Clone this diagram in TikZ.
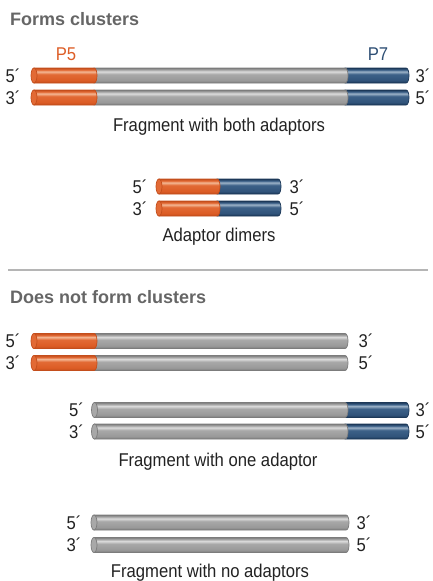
\documentclass[tikz,border=0pt]{standalone}
\usepackage{fontspec}
\setmainfont{Liberation Sans}
\newfontfamily\condsans{Liberation Sans}[FakeStretch=0.9]
\definecolor{oD}{HTML}{C44E1C}
\definecolor{oM}{HTML}{DC5C25}
\definecolor{oM2}{HTML}{E26A35}
\definecolor{oL}{HTML}{F4B895}
\definecolor{gD}{HTML}{7C7C7C}
\definecolor{gM}{HTML}{999999}
\definecolor{gM2}{HTML}{A8A8A8}
\definecolor{gL}{HTML}{DCDCDC}
\definecolor{bD}{HTML}{1C3858}
\definecolor{bM}{HTML}{30537A}
\definecolor{bM2}{HTML}{3D6188}
\definecolor{bL}{HTML}{9DB3C9}
\definecolor{titlegray}{HTML}{666666}
\definecolor{plabO}{HTML}{DD5E27}
\definecolor{plabB}{HTML}{2E4F74}
\definecolor{sepgray}{HTML}{B5B5B5}
\definecolor{textblack}{HTML}{222222}
\pgfdeclareverticalshading{orangerod}{100bp}{color(0bp)=(oD); color(25bp)=(oD); color(34bp)=(oM); color(54bp)=(oM2); color(63bp)=(oL); color(69bp)=(oM2); color(75bp)=(oD); color(100bp)=(oD)}
\pgfdeclareverticalshading{grayrod}{100bp}{color(0bp)=(gD); color(25bp)=(gD); color(34bp)=(gM); color(54bp)=(gM2); color(63bp)=(gL); color(69bp)=(gM2); color(75bp)=(gD); color(100bp)=(gD)}
\pgfdeclareverticalshading{bluerod}{100bp}{color(0bp)=(bD); color(25bp)=(bD); color(34bp)=(bM); color(54bp)=(bM2); color(63bp)=(bL); color(69bp)=(bM2); color(75bp)=(bD); color(100bp)=(bD)}
\newcommand\rodseg[5]{%
  \shadedraw[shading=#4, draw=#5, line width=0.7pt]
    (#1,#3-7.5) -- (#2,#3-7.5) .. controls (#2+4,#3-7.5) and (#2+4,#3+7.5) .. (#2,#3+7.5) -- (#1,#3+7.5) -- cycle;}
\newcommand\rodface[4]{%
  \filldraw[fill=#3, draw=#4, line width=0.7pt] (#1,#2) ellipse [x radius=3pt, y radius=7.5pt];}
\tikzset{
  endlab/.style={font=\condsans\fontsize{18.5}{22}\selectfont, text=textblack, inner sep=0pt},
  caption/.style={font=\condsans\fontsize{18.5}{22}\selectfont, text=textblack, inner sep=0pt, anchor=base},
  heading/.style={font=\fontsize{18}{22}\selectfont\bfseries, text=titlegray, inner sep=0pt, anchor=base west},
}
\begin{document}
\begin{tikzpicture}[x=1pt,y=-1pt]
\useasboundingbox (0,0) rectangle (432,581);
% ---------- Forms clusters ----------
\node[heading] (t1) at (10,25.7) {Forms clusters};
\node[caption, text=plabO] (p5) at (66,60.5) {P5};
\node[caption, text=plabB] (p7) at (378,60.5) {P7};
% fragment with both adaptors
\foreach \yc in {75.5,97.5}{
  \rodseg{345}{406}{\yc}{bluerod}{bD}
  \rodseg{94}{345}{\yc}{grayrod}{gD}
  \rodseg{34}{94}{\yc}{orangerod}{oD}
  \rodface{34}{\yc}{oM2}{oD}
}
\node[endlab] (a5l) at (13,75.5) {5´};
\node[endlab] (a3l) at (13,97.5) {3´};
\node[endlab] (a3r) at (423,75.5) {3´};
\node[endlab] (a5r) at (423,97.5) {5´};
\node[caption] (capA) at (219,131.7) {Fragment with both adaptors};
% adaptor dimers
\foreach \yc in {186.5,208.5}{
  \rodseg{217}{278}{\yc}{bluerod}{bD}
  \rodseg{159}{217}{\yc}{orangerod}{oD}
  \rodface{159}{\yc}{oM2}{oD}
}
\node[endlab] (d5l) at (140,186.5) {5´};
\node[endlab] (d3l) at (140,208.5) {3´};
\node[endlab] (d3r) at (297,186.5) {3´};
\node[endlab] (d5r) at (297,208.5) {5´};
\node[caption] (capB) at (219,241.7) {Adaptor dimers};
% separator
\draw[sepgray, line width=1.3pt] (8,270) -- (428,270);
% ---------- Does not form clusters ----------
\node[heading] (t2) at (10,303.3) {Does not form clusters};
\foreach \yc in {341,363}{
  \rodseg{94}{345}{\yc}{grayrod}{gD}
  \rodseg{34}{94}{\yc}{orangerod}{oD}
  \rodface{34}{\yc}{oM2}{oD}
}
\node[endlab] (n5l) at (13,341) {5´};
\node[endlab] (n3l) at (366,341) {3´};
\node[endlab] (n3r) at (13,363) {3´};
\node[endlab] (n5r) at (366,363) {5´};
% fragment with one adaptor
\foreach \yc in {410,431.5}{
  \rodseg{345}{406}{\yc}{bluerod}{bD}
  \rodseg{94.5}{345}{\yc}{grayrod}{gD}
  \rodface{94.5}{\yc}{gM2}{gD}
}
\node[endlab] (o5l) at (76.5,410) {5´};
\node[endlab] (o3l) at (76.5,431.5) {3´};
\node[endlab] (o3r) at (423,410) {3´};
\node[endlab] (o5r) at (423,431.5) {5´};
\node[caption] (capC) at (218,466) {Fragment with one adaptor};
% fragment with no adaptors
\foreach \yc in {522.5,545}{
  \rodseg{94}{346}{\yc}{grayrod}{gD}
  \rodface{94}{\yc}{gM2}{gD}
}
\node[endlab] (z5l) at (74,522.5) {5´};
\node[endlab] (z3l) at (74,545) {3´};
\node[endlab] (z3r) at (364,522.5) {3´};
\node[endlab] (z5r) at (364,545) {5´};
\node[caption] (capD) at (210,577.5) {Fragment with no adaptors};
\end{tikzpicture}
\end{document}
